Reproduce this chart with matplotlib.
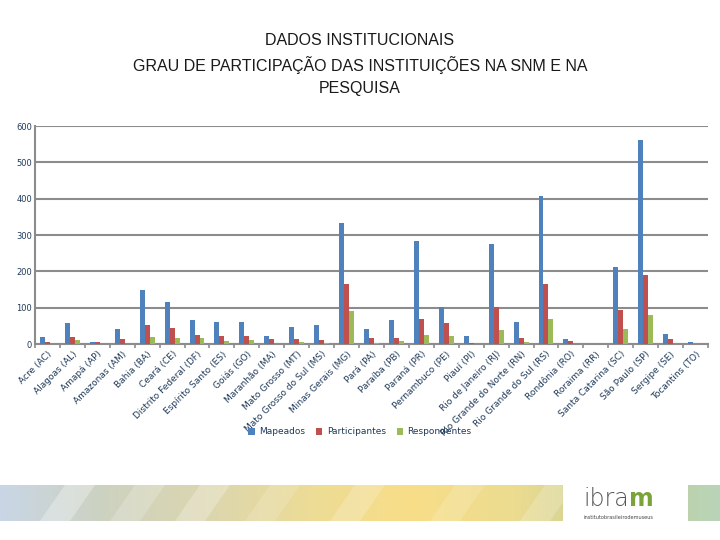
import matplotlib
matplotlib.use("Agg")
import matplotlib.pyplot as plt
import numpy as np
from matplotlib.patches import Polygon
from matplotlib.colors import LinearSegmentedColormap

categories = ["Acre (AC)", "Alagoas (AL)", "Amapá (AP)", "Amazonas (AM)", "Bahia (BA)",
              "Ceará (CE)", "Distrito Federal (DF)", "Espírito Santo (ES)", "Goiás (GO)",
              "Maranhão (MA)", "Mato Grosso (MT)", "Mato Grosso do Sul (MS)", "Minas Gerais (MG)",
              "Pará (PA)", "Paraíba (PB)", "Paraná (PR)", "Pernambuco (PE)", "Piauí (PI)",
              "Rio de Janeiro (RJ)", "Rio Grande do Norte (RN)", "Rio Grande do Sul (RS)",
              "Rondônia (RO)", "Roraima (RR)", "Santa Catarina (SC)", "São Paulo (SP)",
              "Sergipe (SE)", "Tocantins (TO)"]
mapeados = [20, 59, 6, 42, 149, 116, 67, 61, 61, 23, 48, 53, 333, 42, 65, 284, 103, 23,
            276, 61, 408, 15, 0, 213, 561, 28, 5]
participantes = [6, 20, 6, 13, 53, 45, 26, 23, 23, 13, 13, 10, 164, 16, 16, 70, 57, 4,
                 103, 17, 164, 7, 0, 93, 189, 15, 1]
respondentes = [0, 10, 0, 1, 20, 16, 16, 7, 10, 1, 6, 4, 90, 4, 7, 26, 23, 1,
                38, 6, 70, 1, 0, 40, 81, 0, 0]
series_names = ["Mapeados", "Participantes", "Respondentes"]
colors = ["#4F81BD", "#C0504D", "#9BBB59"]
yticks = [0, 100, 200, 300, 400, 500, 600]

fig = plt.figure(figsize=(7.2, 5.4), dpi=100)
fig.text(0.5, 1-33/540, "DADOS INSTITUCIONAIS\nGRAU DE PARTICIPAÇÃO DAS INSTITUIÇÕES NA SNM E NA\nPESQUISA",
         ha="center", va="top", fontsize=11.5, color="#1a1a1a", linespacing=1.55,
         family="Liberation Sans")

ax = fig.add_axes([35/720, 1-344/540, 673/720, 218/540])
x = np.arange(len(categories))
w = 0.2
for i, (vals, c, n) in enumerate(zip([mapeados, participantes, respondentes], colors, series_names)):
    ax.bar(x + (i-1)*w, vals, width=w, color=c, label=n, zorder=3)

ax.set_xlim(-0.5, len(categories)-0.5)
ax.set_ylim(0, 600)
ax.set_yticks(yticks)
ax.set_yticklabels([str(v) for v in yticks], fontsize=6, color="#1F3A5A")
ax.yaxis.grid(True, color="#8c8c8c", linewidth=1.5, zorder=0)
ax.tick_params(axis="y", length=0, pad=2)
ax.set_xticks(x)
ax.set_xticklabels(categories, rotation=45, ha="right", rotation_mode="anchor",
                   fontsize=6.5, color="#1F3A5A")
ax.set_xticks(np.arange(-0.5, len(categories), 1), minor=True)
ax.tick_params(axis="x", which="major", length=0, pad=4)
ax.tick_params(axis="x", which="minor", length=3, color="#8c8c8c", width=1.2)
for s in ["top", "right"]:
    ax.spines[s].set_visible(False)
ax.spines["left"].set_color("#8c8c8c")
ax.spines["left"].set_linewidth(1.5)
ax.spines["bottom"].set_color("#8c8c8c")
ax.spines["bottom"].set_linewidth(1.5)

fig.legend(*ax.get_legend_handles_labels(), loc="center", bbox_to_anchor=(360/720, 1-432/540),
           ncol=3, frameon=False, fontsize=6.5, handlelength=0.7, handleheight=0.7,
           columnspacing=1.2, handletextpad=0.5, labelcolor="#1F3A5A")

# footer band
fax = fig.add_axes([0, 1-521/540, 1, 36/540])
fax.set_xlim(0, 720); fax.set_ylim(0, 36)
fax.axis("off")
cmap = LinearSegmentedColormap.from_list("band", ["#c9d6e6", "#cdd2c0", "#dcd6b0", "#ecdc96",
                                                   "#f8de88", "#ecdc90", "#c8cf98", "#b8d4b8"])
grad = np.linspace(0, 1, 256).reshape(1, -1)
fax.imshow(grad, extent=[0, 720, 0, 36], aspect="auto", cmap=cmap, zorder=1)
stripes = [(40, 0.3), (110, 0.2), (175, 0.25), (245, 0.15), (330, 0.2), (430, 0.15),
           (520, 0.2)]
for sx, a in stripes:
    fax.add_patch(Polygon([[sx, 0], [sx+30, 0], [sx+55, 36], [sx+25, 36]], closed=True,
                          facecolor="white", alpha=a, edgecolor="none", zorder=2))
fax.add_patch(Polygon([[563, 0], [688, 0], [688, 36], [563, 36]], closed=True,
                      facecolor="white", edgecolor="none", zorder=3))
t1 = fax.text(583, 34, "ibra", fontsize=17, color="#555555", va="top", ha="left",
              family="DejaVu Sans", fontweight="light", zorder=4)
fig.canvas.draw()
bb = t1.get_window_extent().transformed(fax.transData.inverted())
fax.text(bb.x1 + 0.5, 34, "m", fontsize=17, color="#7aa33a", va="top", ha="left",
         family="DejaVu Sans", fontweight="bold", zorder=4)
fax.text(583, 1, "institutobrasileirodemuseus", fontsize=3.6, color="#444444",
         va="bottom", ha="left", zorder=4)

fig.savefig("out.png", dpi=100, facecolor="white")
